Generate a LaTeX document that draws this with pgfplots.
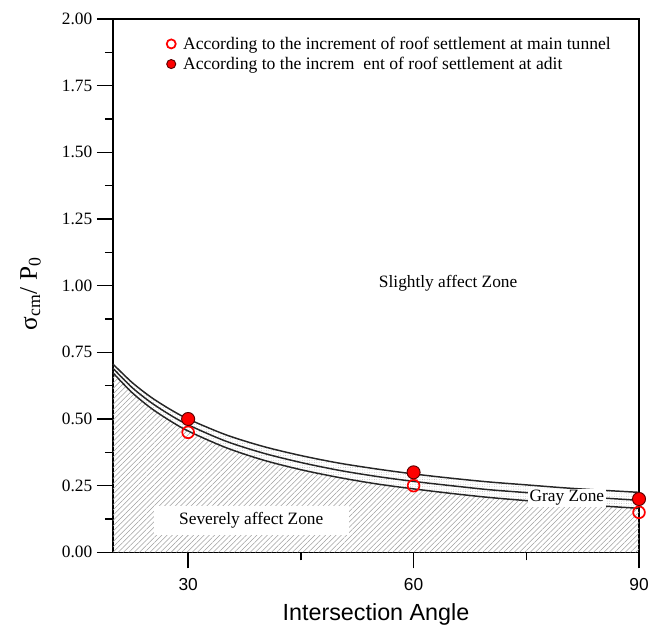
\documentclass[border=0pt]{standalone}
\usepackage{fontspec}
\setmainfont{Liberation Serif}
\setsansfont{Liberation Sans}
\usepackage{pgfplots}
\pgfplotsset{compat=1.18}
\usetikzlibrary{patterns,patterns.meta}

\pgfplotstableread{
x top mid bot
20 0.706 0.690 0.673
22.5 0.638 0.619 0.600
25 0.583 0.563 0.542
27.5 0.538 0.517 0.495
30 0.500 0.478 0.455
35 0.441 0.417 0.393
40 0.397 0.372 0.346
45 0.363 0.337 0.310
50 0.335 0.308 0.281
55 0.313 0.285 0.257
60 0.294 0.266 0.238
65 0.278 0.250 0.221
70 0.264 0.235 0.206
75 0.253 0.224 0.194
80 0.242 0.213 0.183
85 0.233 0.204 0.174
90 0.225 0.195 0.165
}\curves

\begin{document}
\begin{tikzpicture}
\begin{axis}[
  scale only axis,
  width=394.5pt, height=400pt,
  xmin=20, xmax=90, ymin=0, ymax=2,
  xtick={30,60,90}, minor xtick={45,75},
  ytick={0,0.25,...,2.0}, minor y tick num=1,
  tick pos=left, tick align=outside,
  major tick length=12pt, minor tick length=6pt,
  every tick/.style={black, line width=1pt},
  axis line style={line width=1pt},
  /pgf/number format/assume math mode=true,
  yticklabel style={font=\fontsize{13}{15}\selectfont, /pgf/number format/.cd, fixed, fixed zerofill, precision=2},
  xticklabel style={font=\sffamily\fontsize{13}{15}\selectfont, yshift=-4pt},
  xlabel={\sffamily Intersection Angle},
  xlabel style={font=\fontsize{17.5}{20}\selectfont, at={(axis description cs:0.5,-0.117)}, anchor=center},
  ylabel={σ\textsubscript{cm}/ P\textsubscript{0}},
  ylabel style={font=\fontsize{19}{22}\selectfont, at={(axis description cs:-0.157,0.485)}, anchor=center},
  legend style={at={(0.094,0.976)}, anchor=north west, draw=none, fill=none,
    font=\fontsize{13.2}{15}\selectfont, row sep=1.3pt, nodes={inner sep=1.5pt},
    /tikz/every odd column/.style={column sep=4pt}},
  legend image post style={mark size=3.4pt},
  legend cell align=left,
]
\coordinate (sw) at (rel axis cs:0,0);
\coordinate (ne) at (rel axis cs:1,1);
% hatched severely affected area
\addplot[forget plot, draw=none, pattern={Lines[angle=45,distance=2.8pt,line width=0.4pt]}, pattern color=gray!75]
  table[x=x,y=bot]{\curves} \closedcycle;
% gray zone band (dots)
\addplot[forget plot, draw=none, pattern={Dots[distance=1.8pt,radius=0.3pt]}, pattern color=gray!60]
  coordinates {(20,0.706) (22.5,0.638) (25,0.583) (27.5,0.538) (30,0.500) (35,0.441) (40,0.397) (45,0.363) (50,0.335) (55,0.313) (60,0.294) (65,0.278) (70,0.264) (75,0.253) (80,0.242) (85,0.233) (90,0.225)
  (90,0.165) (85,0.174) (80,0.183) (75,0.194) (70,0.206) (65,0.221) (60,0.238) (55,0.257) (50,0.281) (45,0.310) (40,0.346) (35,0.393) (30,0.455) (27.5,0.495) (25,0.542) (22.5,0.600) (20,0.673)} -- cycle;
\addplot[forget plot, smooth, black!85, line width=1.1pt] table[x=x,y=top]{\curves};
\addplot[forget plot, smooth, black!85, line width=1.1pt] table[x=x,y=mid]{\curves};
\addplot[forget plot, smooth, black!85, line width=1.1pt] table[x=x,y=bot]{\curves};
% labels
\node[fill=white, inner xsep=19pt, inner ysep=5pt, font=\fontsize{13}{15}\selectfont] at (axis cs:38.4,0.12) {Severely affect Zone};
\node[fill=white, inner sep=1pt, font=\fontsize{13}{15}\selectfont] at (axis cs:80.4,0.205) {Gray Zone};
\node[font=\fontsize{13}{15}\selectfont] at (axis cs:64.6,1.01) {Slightly affect Zone};
% data points
\addplot[only marks, mark=o, mark size=4.4pt, red, line width=1.3pt, clip=false]
  coordinates {(30,0.45) (60,0.25) (90,0.15)};
\addlegendentry{According to the increment of roof settlement at main tunnel}
\addplot[only marks, mark=*, mark size=4.9pt, draw=red!35!black, fill=red, line width=0.7pt, clip=false]
  coordinates {(30,0.50) (60,0.30) (90,0.20)};
\addlegendentry{According to the increm\ \ ent of roof settlement at adit}
\end{axis}
\pgfresetboundingbox
\path ([shift={(-84.75pt,-57pt)}]sw) rectangle ([shift={(6.75pt,14.25pt)}]ne);
\end{tikzpicture}
\end{document}
